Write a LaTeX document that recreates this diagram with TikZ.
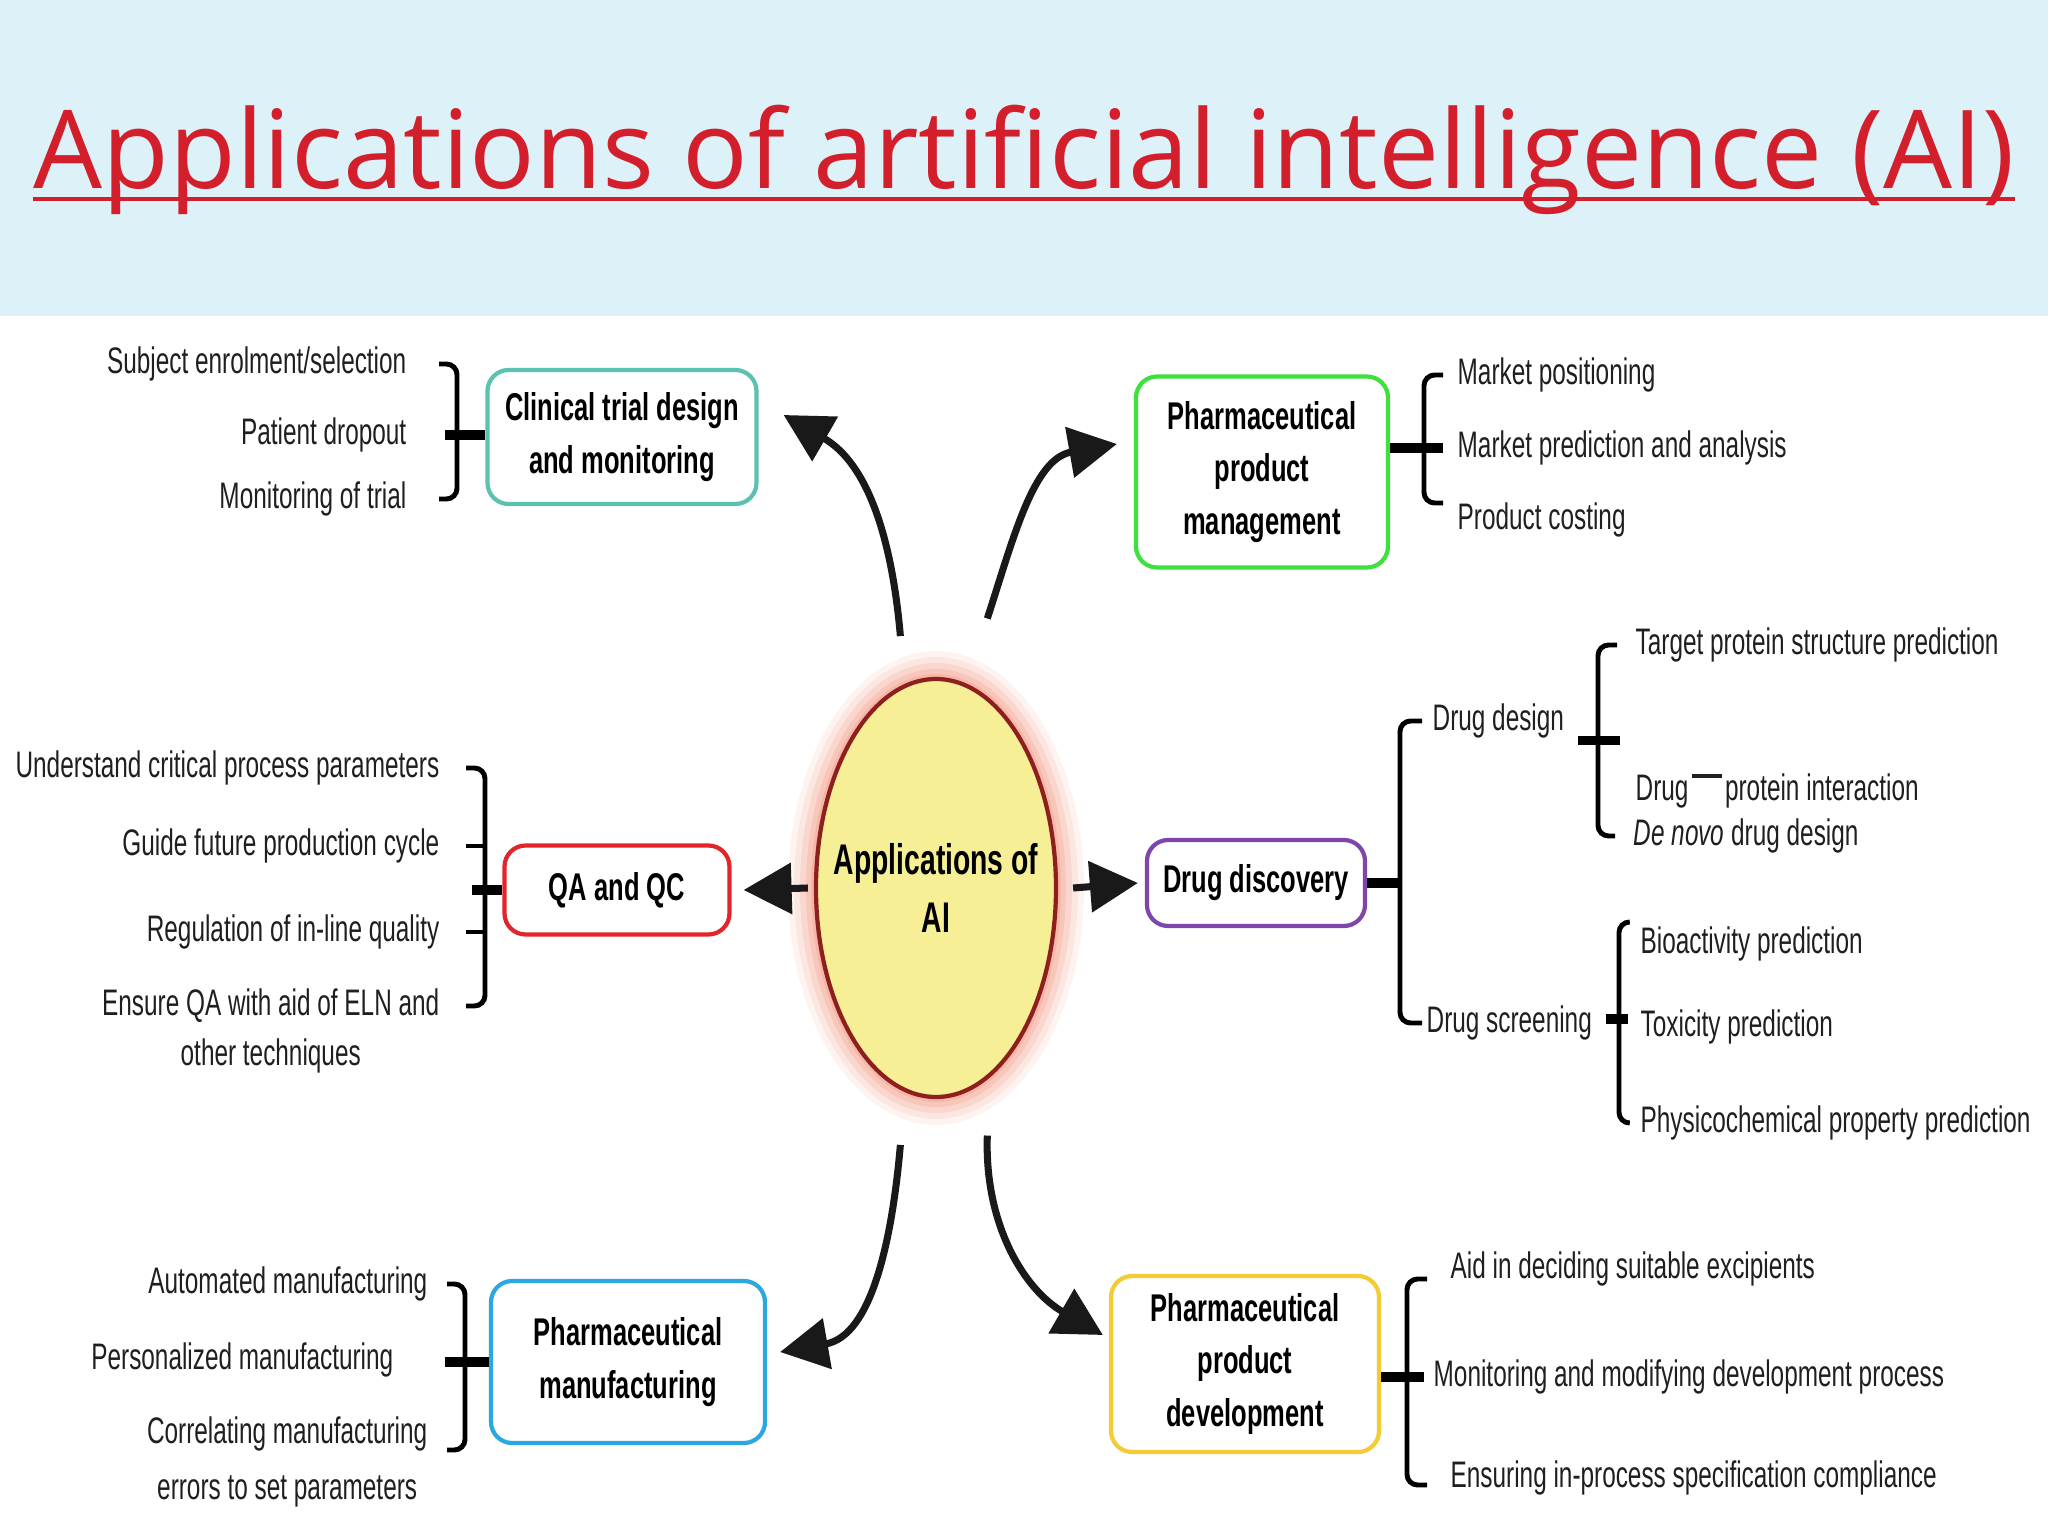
\documentclass[tikz,border=0pt]{standalone}
\usepackage{fontspec}
\setmainfont{Liberation Sans}
\newfontfamily\condfont{Liberation Sans}[FakeStretch=0.66]
\newfontfamily\titlefont{Open Sans}
\usetikzlibrary{positioning, arrows.meta, shapes.geometric, calc}

\definecolor{bandblue}{HTML}{DDF1F9}
\definecolor{titlered}{HTML}{D21F2B}
\definecolor{hubyellow}{HTML}{F6EF96}
\definecolor{hubred}{HTML}{8E1F1F}
\definecolor{glowred}{HTML}{F29A85}
\definecolor{clinteal}{HTML}{5CC2B0}
\definecolor{mgmtgreen}{HTML}{3EE03E}
\definecolor{qared}{HTML}{E2252B}
\definecolor{drugpurple}{HTML}{7E46AA}
\definecolor{manufblue}{HTML}{2BA8DF}
\definecolor{devyellow}{HTML}{F2CB35}

\begin{document}
\begin{tikzpicture}[
    leaf/.style={font=\condfont\fontsize{10.5}{14}\selectfont, text=black!88, inner sep=0pt, text height=7.6pt, text depth=2.2pt},
    hub/.style={ellipse, draw=hubred, line width=1.2pt, fill=hubyellow, minimum width=2.4cm, minimum height=4.18cm, inner xsep=-0.5cm, inner ysep=0pt, align=center, font=\condfont\bfseries\fontsize{12.2}{16.5}\selectfont},
    area/.style={draw, rounded corners=6pt, line width=1.2pt, fill=white, align=center, inner sep=2pt, font=\condfont\bfseries\fontsize{11}{15}\selectfont},
    brk/.style={line width=1.4pt, rounded corners=3pt},
    tick/.style={line width=2.6pt},
    bigarrow/.style={-{Triangle[length=4.8mm, width=5mm]}, line width=2pt, black!90},
]
\useasboundingbox (0,0) rectangle (20.48,-15.36);

% Title band
\fill[bandblue] (0,0) rectangle (20.48,-3.16);
\node[font=\titlefont\fontsize{31}{36}\selectfont, text=titlered, anchor=base west, inner sep=0pt] (title) at (0.33,-1.89) {Applications of artificial intelligence (AI)};
\draw[titlered, line width=1.2pt] ([yshift=-1mm]title.base west) -- ([yshift=-1mm]title.base east);

% Central node with glow
\coordinate (hubc) at (9.36,-8.88);
\foreach \r/\op in {0.28/0.12, 0.22/0.15, 0.16/0.2, 0.1/0.28, 0.05/0.35} {
    \fill[glowred, opacity=\op] (hubc) ellipse [x radius={1.2+\r}, y radius={2.09+\r}];
}
\node[hub] (ai) at (hubc) {Applications of\\AI};

% Application areas
\node[area, draw=clinteal, minimum width=2.69cm, minimum height=1.34cm] (clin) at (6.22,-4.37) {Clinical trial design\\and monitoring};
\node[area, draw=mgmtgreen, minimum width=2.52cm, minimum height=1.91cm] (mgmt) at (12.62,-4.72) {Pharmaceutical\\product\\management};
\node[area, draw=qared, minimum width=2.25cm, minimum height=0.89cm] (qa) at (6.17,-8.9) {QA and QC};
\node[area, draw=drugpurple, minimum width=2.18cm, minimum height=0.86cm] (drug) at (12.56,-8.83) {Drug discovery};
\node[area, draw=manufblue, minimum width=2.74cm, minimum height=1.62cm] (manuf) at (6.28,-13.62) {Pharmaceutical\\manufacturing};
\node[area, draw=devyellow, minimum width=2.68cm, minimum height=1.76cm] (dev) at (12.45,-13.64) {Pharmaceutical\\product\\development};

% Arrows from the centre
\draw[bigarrow] ([yshift=5mm]ai.100) to[out=95, in=-30] ([shift={(0.25,0.22)}]clin.east);
\draw[bigarrow] ([yshift=7.8mm]ai.75) to[out=72, in=190] ([shift={(-0.17,0.28)}]mgmt.west);
\draw[bigarrow] ([xshift=-0.6mm]ai.west) -- ([xshift=1.2mm]qa.east);
\draw[bigarrow] ([xshift=1.5mm]ai.east) -- ([xshift=-0.7mm]drug.west);
\draw[bigarrow] ([yshift=-5.5mm]ai.260) to[out=-95, in=10] ([shift={(0.13,0.10)}]manuf.east);
\draw[bigarrow] ([yshift=-5.6mm]ai.285) to[out=-92, in=150] ([shift={(-0.06,0.29)}]dev.west);

% Clinical trial
\node[leaf, anchor=east] (c1) at (4.07,-3.64) {Subject enrolment/selection};
\node[leaf, anchor=east] (c2) at (4.07,-4.35) {Patient dropout};
\node[leaf, anchor=east] (c3) at (4.07,-4.99) {Monitoring of trial};
\draw[brk] ([xshift=3.2mm]c1.east) -| ([xshift=5mm]c3.east) -- ([xshift=3.2mm]c3.east);
\draw[tick] ([xshift=3.8mm]c2.east) -- (clin.west |- c2);

% QA and QC
\node[leaf, anchor=east] (q1) at (4.40,-7.68) {Understand critical process parameters};
\node[leaf, anchor=east] (q2) at (4.40,-8.46) {Guide future production cycle};
\node[leaf, anchor=east] (q3) at (4.40,-9.32) {Regulation of in-line quality};
\node[leaf, anchor=east] (q4) at (4.40,-10.06) {Ensure QA with aid of ELN and};
\node[leaf, below=0.14cm of q4] (q4b) {other techniques};
\draw[brk] ([xshift=2.6mm]q1.east) -| ([xshift=4.5mm]q4.east) -- ([xshift=2.6mm]q4.east);
\draw[brk] ([xshift=2.6mm]q2.east) -- ([xshift=4.5mm]q2.east);
\draw[brk] ([xshift=2.6mm]q3.east) -- ([xshift=4.5mm]q3.east);
\draw[tick] (qa.west) -- ++(-0.3,0);

% Manufacturing
\node[leaf, anchor=east] (f1) at (4.28,-12.84) {Automated manufacturing};
\node[leaf, anchor=east] (f2) at (3.94,-13.60) {Personalized manufacturing};
\node[leaf, anchor=east] (f3) at (4.28,-14.34) {Correlating manufacturing};
\node[leaf, below=0.2cm of f3] (f3b) {errors to set parameters};
\draw[brk] ([xshift=1.9mm]f1.east) -| ([xshift=3.7mm,yshift=-1.6mm]f3.east) -- ([xshift=1.9mm,yshift=-1.6mm]f3.east);
\draw[tick] (manuf.west) -- ++(-0.44,0);

% Product management
\node[leaf, anchor=west] (p1) at (14.57,-3.75) {Market positioning};
\node[leaf, anchor=west] (p2) at (14.57,-4.48) {Market prediction and analysis};
\node[leaf, anchor=west] (p3) at (14.57,-5.20) {Product costing};
\draw[brk] ([xshift=-1.4mm]p1.west) -| ([xshift=-3.3mm,yshift=1.7mm]p3.west) -- ([xshift=-1.4mm,yshift=1.7mm]p3.west);
\draw[tick] (mgmt.east |- p2) -- ([xshift=-1.4mm]p2.west);

% Drug discovery
\node[leaf, anchor=west] (d1) at (14.32,-7.21) {Drug design};
\node[leaf, anchor=west] (d2) at (14.26,-10.23) {Drug screening};
\draw[brk] ([xshift=-1mm]d1.west) -| ([xshift=-2.6mm]d2.west) -- ([xshift=-0.4mm]d2.west);
\draw[tick] (drug.east) -- ++(0.35,0);

\node[leaf, anchor=west] (t1) at (16.35,-6.45) {Target protein structure prediction};
\node[leaf, anchor=west] (t2) at (16.35,-7.91) {Drug\hspace{1pt}\raisebox{0.62em}{\rule{0.8em}{1.1pt}}\hspace{1pt}protein interaction};
\node[leaf, anchor=west] (t3) at (16.33,-8.36) {\itshape De novo \upshape drug design};
\draw[brk] ([xshift=-1.8mm]t1.west) -| ([xshift=-3.5mm]t3.west) -- ([xshift=-1.8mm]t3.west);
\draw[tick] ([xshift=-5.6mm]$(t1.west)!0.5!(t3.west)$) -- ++(0.42,0);

\node[leaf, anchor=west] (s1) at (16.40,-9.44) {Bioactivity prediction};
\node[leaf, anchor=west] (s2) at (16.40,-10.27) {Toxicity prediction};
\node[leaf, anchor=west] (s3) at (16.40,-11.23) {Physicochemical property prediction};
\draw[brk] ([xshift=-1.1mm,yshift=2.2mm]s1.west) -| ([xshift=-2.1mm]s3.west) -- ([xshift=-1.1mm]s3.west);
\draw[tick] ([xshift=-3.4mm,yshift=0.8mm]s2.west) -- ++(0.22,0);

% Product development
\node[leaf, anchor=west] (v1) at (14.50,-12.69) {Aid in deciding suitable excipients};
\node[leaf, anchor=west] (v2) at (14.33,-13.77) {Monitoring and modifying development process};
\node[leaf, anchor=west] (v3) at (14.50,-14.78) {Ensuring in-process specification compliance};
\draw[brk] ([xshift=-2.3mm,yshift=-1mm]v1.west) -| ([xshift=-4.3mm,yshift=-0.7mm]v3.west) -- ([xshift=-2.3mm,yshift=-0.7mm]v3.west);
\draw[tick] (dev.east |- v2) -- ([xshift=-0.9mm]v2.west);

\end{tikzpicture}
\end{document}
